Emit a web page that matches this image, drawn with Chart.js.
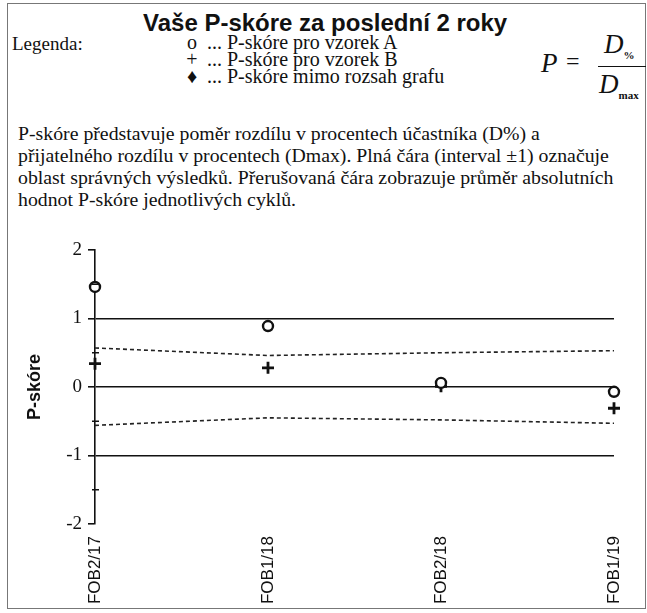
<!DOCTYPE html>
<html>
<head>
<meta charset="utf-8">
<script src="https://cdn.jsdelivr.net/npm/chart.js@4/dist/chart.umd.min.js"></script>
<style>
  html, body { margin: 0; padding: 0; background: #fff; }
  body { width: 647px; height: 613px; position: relative; overflow: hidden; color: #111; }
  #frame { position: absolute; left: 7px; top: 3px; width: 637px; height: 604px; border: 1px solid #777; }
  #title { position: absolute; left: 143px; top: 8px; font: bold 24px "Liberation Sans", Arial, sans-serif; line-height: 30px; white-space: nowrap; }
  .serif { font-family: "Liberation Serif", "Times New Roman", serif; }
  #legendLabel { position: absolute; left: 12px; top: 34px; font-size: 19px; line-height: 20px; }
  #legend { position: absolute; left: 182px; top: 34px; font-size: 20px; line-height: 17px; white-space: nowrap; }
  #legend .sym { display: inline-block; width: 20px; text-align: center; }
  #formula { position: absolute; left: 0; top: 0; font-style: italic; }
  #formula span { position: absolute; white-space: nowrap; }
  #para { position: absolute; left: 18px; top: 122px; font-size: 19.8px; line-height: 22px; white-space: nowrap; }
  #chart { position: absolute; left: 0; top: 0; }
</style>
</head>
<body>
<div id="frame"></div>
<div id="title">Vaše P-skóre za poslední 2 roky</div>
<div id="legendLabel" class="serif">Legenda:</div>
<div id="legend" class="serif">
  <div><span class="sym">o</span> ... P-skóre pro vzorek A</div>
  <div><span class="sym">+</span> ... P-skóre pro vzorek B</div>
  <div><span class="sym">♦</span> ... P-skóre mimo rozsah grafu</div>
</div>
<div id="formula" class="serif">
  <span style="left:541px; top:48px; font-size:27px;">P</span>
  <span style="left:566px; top:48px; font-size:24px; font-style:normal;">=</span>
  <span style="left:604px; top:29px; font-size:27px;">D<sub style="font-size:11px; font-style:normal; font-weight:bold;">%</sub></span>
  <span style="left:598px; top:66px; width:48px; height:0; border-top:1.5px solid #111;"></span>
  <span style="left:599px; top:69px; font-size:27px;">D<sub style="font-size:11px; font-style:normal; font-weight:bold;">max</sub></span>
</div>
<div id="para" class="serif">
  P-skóre představuje poměr rozdílu v procentech účastníka (D%) a<br>
  přijatelného rozdílu v procentech (Dmax). Plná čára (interval ±1) označuje<br>
  oblast správných výsledků. Přerušovaná čára zobrazuje průměr absolutních<br>
  hodnot P-skóre jednotlivých cyklů.
</div>
<canvas id="chart" width="647" height="613"></canvas>
<script>
// Cycles on the x axis
const cycles = ['FOB2/17', 'FOB1/18', 'FOB2/18', 'FOB1/19'];

// P-scores
const scoreA = [1.46, 0.89, 0.06, -0.07];
const scoreB = [0.34, 0.28, 0.01, -0.31];

// Mean of absolute P-scores (dashed lines, +/-)
const meanUpper = [0.57, 0.46, 0.5, 0.53];
const meanLower = [-0.56, -0.45, -0.48, -0.53];

// Solid reference lines and labelled ticks
const limitLines = [-1, 0, 1];
const yLabels = [-2, -1, 0, 1, 2];

const ink = '#111';

// small half-step ticks on the y axis
const minorTicks = {
    id: 'minorTicks',
    afterDraw(chart) {
        const y = chart.scales.y;
        const ctx = chart.ctx;
        ctx.save();
        ctx.strokeStyle = ink;
        ctx.lineWidth = 1.5;
        y.ticks.forEach(t => {
            if (Number.isInteger(t.value)) return;
            const py = y.getPixelForValue(t.value);
            ctx.beginPath();
            ctx.moveTo(y.right - 3, py);
            ctx.lineTo(y.right + 4, py);
            ctx.stroke();
        });
        ctx.restore();
    }
};

const dashed = {
    borderColor: '#222',
    borderWidth: 1.6,
    borderDash: [4, 3],
    pointRadius: 0,
    fill: false,
    tension: 0
};

new Chart(document.getElementById('chart'), {
    type: 'line',
    data: {
        labels: cycles,
        datasets: [{
            label: 'P-skóre pro vzorek A',
            data: scoreA,
            showLine: false,
            pointStyle: 'circle',
            pointRadius: 5,
            pointBorderWidth: 2.4,
            pointBackgroundColor: '#fff',
            pointBorderColor: ink,
            clip: false
        }, {
            label: 'P-skóre pro vzorek B',
            data: scoreB,
            showLine: false,
            pointStyle: 'cross',
            pointRadius: 6,
            pointBorderWidth: 2.8,
            pointBorderColor: ink,
            clip: false
        }, {
            label: 'Průměr |P| (+)',
            data: meanUpper,
            ...dashed
        }, {
            label: 'Průměr |P| (-)',
            data: meanLower,
            ...dashed
        }]
    },
    options: {
        responsive: false,
        animation: false,
        events: [],
        layout: {
            padding: { left: 8, top: 250, right: 33, bottom: 0 }
        },
        plugins: {
            legend: { display: false },
            tooltip: { enabled: false }
        },
        scales: {
            x: {
                type: 'category',
                offset: false,
                grid: { display: false },
                border: { display: false },
                ticks: {
                    maxRotation: 90,
                    minRotation: 90,
                    padding: 4,
                    color: ink,
                    font: { family: 'Liberation Sans', size: 17 }
                },
                afterFit: scale => { scale.height = 89; }
            },
            y: {
                min: -2,
                max: 2,
                ticks: {
                    stepSize: 0.5,
                    padding: 6,
                    color: ink,
                    font: { family: 'Liberation Serif', size: 19 },
                    callback: v => yLabels.includes(v) ? String(v) : ''
                },
                grid: {
                    color: c => limitLines.includes(c.tick.value) ? ink : 'rgba(0,0,0,0)',
                    lineWidth: 1.6,
                    tickColor: c => Number.isInteger(c.tick.value) ? ink : 'rgba(0,0,0,0)',
                    tickLength: 7
                },
                border: { display: true, color: ink, width: 1.6 },
                title: {
                    display: true,
                    text: 'P-skóre',
                    color: ink,
                    padding: { top: 16, bottom: 0 },
                    font: { family: 'Liberation Sans', size: 18, weight: 'bold' }
                },
                afterFit: scale => { scale.width = 87; }
            }
        }
    },
    plugins: [minorTicks]
});
</script>
</body>
</html>
